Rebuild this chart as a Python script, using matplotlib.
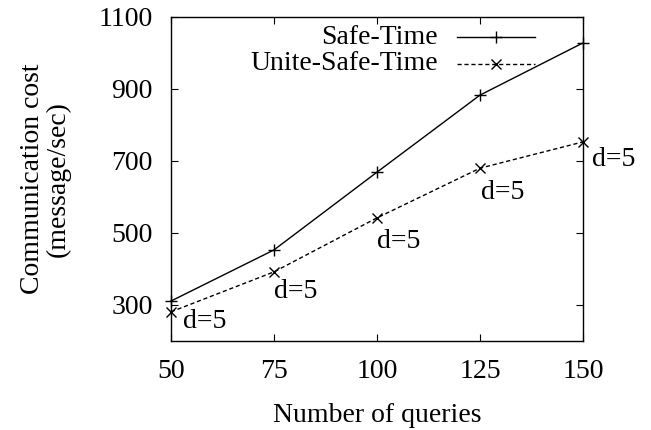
import matplotlib
matplotlib.use('Agg')
import matplotlib.pyplot as plt

queries = [50, 75, 100, 125, 150]
safe_time = [311, 453, 669, 883, 1028]
unite_safe_time = [281, 392, 542, 680, 753]
d_labels = ['d=5', 'd=5', 'd=5', 'd=5', 'd=5']

plt.rcParams['font.family'] = 'Liberation Serif'
plt.rcParams['font.size'] = 20

fig = plt.figure(figsize=(6.51, 4.30), dpi=100)
ax = fig.add_axes([0.2627, 0.2070, 0.6328, 0.7535])

ax.plot(queries, safe_time, color='black', lw=1.0, marker='+', ms=9, mew=1.0, clip_on=False)
ax.plot(queries, unite_safe_time, color='black', lw=1.0, ls=(0, (3, 2)), marker='x', ms=7, mew=1.0, clip_on=False)

# d=5 labels next to the Unite-Safe-Time points
offsets = [(12, -10), (0, -20), (0, -24), (1, -24), (9, -18)]
for x, y, lab, off in zip(queries, unite_safe_time, d_labels, offsets):
    ax.annotate(lab, (x, y), xytext=off, textcoords='offset pixels',
                ha='left', va='center', annotation_clip=False)

ax.set_xlim(50, 150)
ax.set_ylim(200, 1100)
ax.set_xticks([50, 75, 100, 125, 150])
ax.set_yticks([300, 500, 700, 900, 1100])
ax.tick_params(direction='in', length=5, width=0.8, top=True, right=True)
ax.tick_params(axis='x', pad=13)
ax.tick_params(axis='y', pad=13)
for s in ax.spines.values():
    s.set_linewidth(1.0)

ax.set_xlabel('Number of queries', labelpad=14)
ax.set_ylabel('Communication cost\n(message/sec)', labelpad=20, linespacing=1.05)

# gnuplot style key: text right-aligned, sample to the right
keys = [('Safe-Time', '-', '+', 9, 0.938), ('Unite-Safe-Time', (0, (3, 2)), 'x', 7, 0.855)]
for name, ls, mk, ms, yk in keys:
    ax.text(0.648, yk, name, transform=ax.transAxes, ha='right', va='center')
    ax.plot([0.694, 0.883], [yk, yk], transform=ax.transAxes, color='black', lw=1.0, ls=ls, clip_on=False)
    ax.plot([0.7885], [yk], transform=ax.transAxes, color='black', marker=mk, ms=ms, mew=1.0, clip_on=False)

fig.savefig('out.png', dpi=100)
